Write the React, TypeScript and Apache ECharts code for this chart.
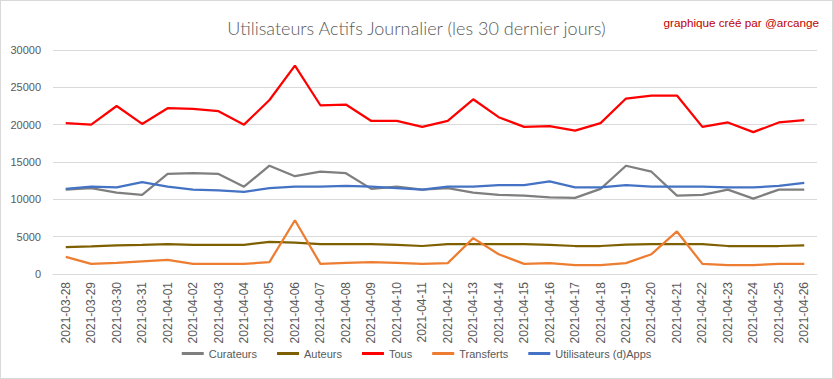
import React, { useEffect, useRef } from "react";
import * as echarts from "echarts";

const dates = [
  "2021-03-28", "2021-03-29", "2021-03-30", "2021-03-31", "2021-04-01", "2021-04-02",
  "2021-04-03", "2021-04-04", "2021-04-05", "2021-04-06", "2021-04-07", "2021-04-08",
  "2021-04-09", "2021-04-10", "2021-04-11", "2021-04-12", "2021-04-13", "2021-04-14",
  "2021-04-15", "2021-04-16", "2021-04-17", "2021-04-18", "2021-04-19", "2021-04-20",
  "2021-04-21", "2021-04-22", "2021-04-23", "2021-04-24", "2021-04-25", "2021-04-26",
];

const curateurs = [
  11300, 11500, 10900, 10600, 13400, 13500, 13400, 11700, 14500, 13100, 13700, 13500,
  11400, 11700, 11300, 11500, 10900, 10600, 10500, 10250, 10200, 11400, 14500, 13700,
  10500, 10600, 11300, 10100, 11300, 11300,
];
const auteurs = [
  3600, 3700, 3850, 3900, 4000, 3900, 3900, 3900, 4300, 4200, 4000, 4000,
  4000, 3900, 3750, 4000, 4000, 4000, 4000, 3900, 3750, 3750, 3950, 4000,
  4000, 4000, 3750, 3750, 3750, 3850,
];
const tous = [
  20200, 20000, 22500, 20100, 22200, 22100, 21800, 20000, 23300, 27900, 22600, 22700,
  20500, 20500, 19700, 20500, 23400, 21000, 19700, 19800, 19200, 20200, 23500, 23900,
  23900, 19700, 20300, 19000, 20300, 20600,
];
const transferts = [
  2300, 1350, 1500, 1700, 1900, 1350, 1350, 1350, 1600, 7200, 1350, 1500,
  1600, 1500, 1350, 1450, 4800, 2650, 1350, 1450, 1200, 1200, 1450, 2650,
  5700, 1350, 1200, 1200, 1350, 1350,
];
const dapps = [
  11400, 11700, 11600, 12300, 11700, 11300, 11200, 11000, 11500, 11700, 11700, 11800,
  11700, 11500, 11300, 11700, 11700, 11900, 11900, 12400, 11600, 11600, 11900, 11700,
  11700, 11700, 11600, 11600, 11800, 12200,
];

const seriesNames = ["Curateurs", "Auteurs", "Tous", "Transferts", "Utilisateurs (d)Apps"];
const seriesColors = ["#7f7f7f", "#7f6000", "#ff0000", "#ed7d31", "#4472c4"];
const seriesData = [curateurs, auteurs, tous, transferts, dapps];

export default function App() {
  const ref = useRef<HTMLDivElement>(null);
  useEffect(() => {
    if (!ref.current) return;
    const chart = echarts.init(ref.current, undefined, { renderer: "svg" });
    const font = "Liberation Sans, Arial, sans-serif";
    chart.setOption({
      animation: false,
      backgroundColor: "#ffffff",
      textStyle: { fontFamily: font },
      title: [
        {
          text: "Utilisateurs Actifs Journalier (les 30 dernier jours)",
          left: "center",
          top: 13,
          textStyle: { fontFamily: "Lato, sans-serif", fontSize: 18, fontWeight: 300, color: "#595959" },
        },
        {
          text: "graphique créé par @arcange",
          right: 8,
          top: 10,
          textStyle: { fontFamily: font, fontSize: 11.7, fontWeight: "normal", color: "#c00000" },
        },
      ],
      legend: {
        bottom: 14,
        left: "center",
        itemWidth: 22,
        itemHeight: 3,
        itemGap: 20,
        icon: "rect",
        textStyle: { fontFamily: font, fontSize: 11, color: "#595959" },
        data: seriesNames,
      },
      grid: { left: 52, right: 15, top: 49, bottom: 104, containLabel: false },
      xAxis: {
        type: "category",
        data: dates,
        boundaryGap: true,
        axisLine: { lineStyle: { color: "#d9d9d9", width: 1 } },
        axisTick: { show: false },
        axisLabel: {
          rotate: 90,
          interval: 0,
          color: "#595959",
          fontSize: 12,
          fontFamily: font,
          margin: 8,
        },
      },
      yAxis: {
        type: "value",
        min: 0,
        max: 30000,
        interval: 5000,
        axisLine: { show: false },
        axisTick: { show: false },
        splitLine: { lineStyle: { color: "#d9d9d9", width: 1 } },
        axisLabel: {
          color: "#595959",
          fontSize: 11,
          fontFamily: font,
          margin: 12,
          formatter: (v: number) => String(v),
        },
      },
      series: seriesNames.map((name, i) => ({
        name,
        type: "line",
        data: seriesData[i],
        showSymbol: false,
        symbol: "none",
        lineStyle: { color: seriesColors[i], width: 2.25 },
        itemStyle: { color: seriesColors[i] },
      })),
    });
    return () => chart.dispose();
  }, []);
  return (
    <div
      ref={ref}
      style={{
        position: "absolute",
        left: 0,
        top: 0,
        width: 833,
        height: 379,
        boxSizing: "border-box",
        border: "1px solid #d9d9d9",
      }}
    />
  );
}
